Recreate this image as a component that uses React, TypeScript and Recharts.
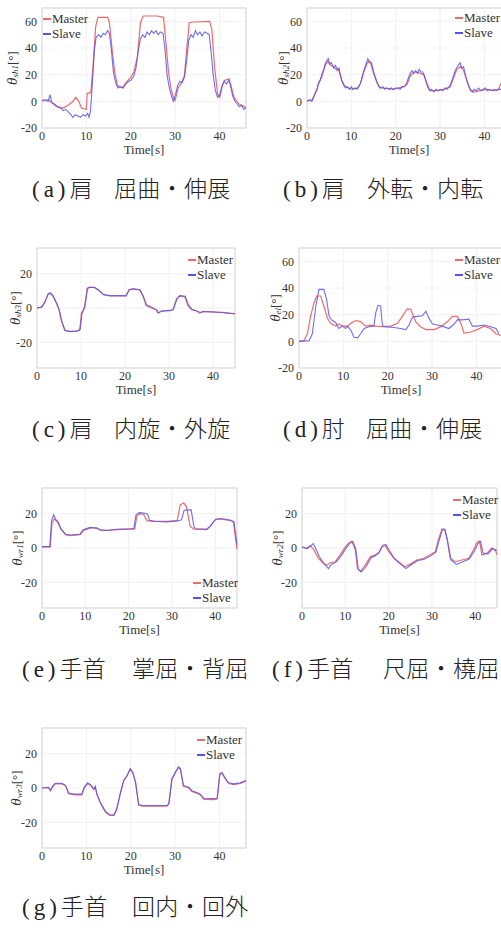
import React from 'react';
import {
  LineChart,
  Line,
  XAxis,
  YAxis,
  CartesianGrid,
  Legend,
  ReferenceArea,
} from 'recharts';

type Pt = [number, number];

// (a) shoulder flexion / extension
const aMaster: Pt[] = [[0,1],[1.5,1],[3.3,-4],[4.8,-5],[5.9,-3],[7,0],[7.6,3],[8.3,0],[8.9,-5],[10,-6],[10.2,6],[11,6.5],[11.5,26],[12.1,56],[12.6,63],[14.8,63],[15.2,59],[15.9,36],[16.4,22],[17,12],[18.1,10],[18.9,14],[20,18],[20.7,22],[21.5,33],[22.2,59],[22.8,64],[25.9,64],[27.4,63],[27.9,46],[28.5,23],[29,11],[29.6,3],[30,0.5],[30.7,10],[31.5,14],[32.1,19],[32.6,38],[33.2,59],[34.1,59.5],[37.8,60],[38.3,54],[38.9,26],[39.6,5.5],[40.1,3],[40.6,10.6],[41.1,15.7],[42.2,17],[42.7,10.6],[43.3,3],[44.4,-2],[46,-4.5]];
const aSlave: Pt[] = [[0,0],[0.8,1],[1.4,0],[1.8,5],[2.2,-1],[2.8,-2],[3.5,-4],[4.2,-5],[4.8,-7],[5.4,-6],[5.9,-8],[6.5,-10],[7,-12],[7.5,-10],[8.1,-11],[8.7,-12],[9.2,-10],[9.8,-11],[10.3,-9],[10.6,-12],[10.9,-8],[11.3,10],[11.8,38],[12.2,48],[12.8,50],[13.3,48],[13.8,51],[14.3,50],[14.8,53],[15.2,51],[15.6,40],[16.1,22],[16.6,14],[17.1,10],[17.7,11],[18.3,10],[18.9,13],[19.5,15],[20.1,16],[20.7,19],[21.2,25],[21.7,38],[22.2,47],[22.7,50],[23.2,48],[23.7,52],[24.2,50],[24.7,53],[25.2,51],[25.7,53],[26.2,50],[26.7,52],[27.3,51],[27.7,40],[28.2,20],[28.7,10],[29.2,4],[29.6,0],[30.1,5],[30.6,12],[31.1,15],[31.6,14],[32.1,18],[32.6,30],[33.1,46],[33.6,50],[34.1,48],[34.6,53],[35.1,50],[35.6,52],[36.1,49],[36.6,52],[37.2,51],[37.7,50],[38.1,38],[38.6,20],[39.1,8],[39.6,3],[40.1,5],[40.6,12],[41.1,15],[41.6,13],[42.1,16],[42.5,12],[43,4],[43.5,0],[44,-2],[44.5,-4],[45,-3],[45.5,-6],[46,-5]];

// (b) shoulder abduction / adduction
const bMaster: Pt[] = [[0,0.5],[1.1,1],[1.9,6],[2.6,13],[3.4,19],[4.1,27],[4.7,30],[5.3,27],[6,26],[6.8,23],[7.1,24],[7.9,15],[8.6,11],[9.4,10],[10.2,9],[11.3,10],[12,13],[12.8,22],[13.5,28],[13.9,30],[14.4,28],[15,21],[15.8,14],[16.5,10],[17.3,10],[19.5,9],[21.8,11],[22.6,13],[23.3,19],[24.1,22],[24.8,22],[25.6,21],[26.3,20],[27.1,13],[27.8,8],[29.3,8],[30.8,9],[32.3,11],[33.1,18],[33.8,24],[34.6,26],[35.3,23],[36.1,15],[36.8,9],[37.6,7],[39.1,8],[40.6,9],[42.1,8],[43.2,9],[43.7,13],[46,10]];
const bSlave: Pt[] = [[0,0],[0.6,1],[1.1,0],[1.5,3],[1.9,7],[2.3,9],[2.6,14],[3,16],[3.4,21],[3.8,24],[4.1,28],[4.5,31],[4.8,32],[5.1,28],[5.5,29],[6,25],[6.4,27],[6.8,24],[7.2,25],[7.6,19],[7.9,15],[8.3,12],[8.7,10],[9.1,11],[9.6,9],[10,11],[10.4,9],[10.8,10],[11.3,9],[11.7,11],[12.1,14],[12.5,19],[12.9,24],[13.3,28],[13.7,32],[14.1,30],[14.5,29],[14.9,24],[15.3,19],[15.8,14],[16.2,11],[16.6,10],[17.1,11],[17.5,9],[18,10],[18.5,9],[19,10],[19.5,9],[20,10],[20.5,10],[21,9],[21.5,11],[22,11],[22.5,14],[22.9,18],[23.3,21],[23.7,23],[24.1,21],[24.5,23],[24.9,21],[25.3,24],[25.7,22],[26.1,22],[26.5,19],[26.9,14],[27.3,10],[27.7,8],[28.1,9],[28.6,7],[29.1,9],[29.6,8],[30.1,9],[30.6,8],[31.1,10],[31.6,9],[32.1,11],[32.5,14],[32.9,18],[33.3,22],[33.7,25],[34.1,27],[34.5,29],[34.9,25],[35.3,26],[35.7,20],[36.1,15],[36.5,11],[36.9,8],[37.3,7],[37.7,9],[38.2,8],[38.7,10],[39.2,8],[39.7,9],[40.2,10],[40.7,8],[41.2,9],[41.7,8],[42.2,9],[42.7,8],[43.2,9],[43.7,9],[44.5,10]];

// (c) shoulder internal / external rotation
const cMaster: Pt[] = [[0,0],[1,0.6],[1.7,3],[2.5,8],[3,8.4],[3.6,7],[4.4,3],[5,-1],[5.5,-7],[6.3,-13],[7.4,-13.6],[8.9,-13.6],[9.7,-13],[10.1,-3],[10.5,-1],[10.8,0.6],[11.4,11.4],[12,12],[13.1,12],[13.9,10.6],[15,8],[16.5,7],[20.3,7],[20.9,10.6],[21.8,11],[23.3,10.6],[24.1,7],[24.8,1.4],[26,0],[27.1,-1],[27.5,-3],[28.3,-1.6],[30.2,-1.6],[30.9,-1],[31.7,5],[32.4,7],[33.6,6.6],[34.3,1.4],[35.1,-1],[36.2,-1.6],[37,-3],[37.7,-2],[40,-2.4],[42.3,-2.6],[43.8,-3],[45,-3.4]];
const cSlave: Pt[] = [[0,0],[1.1,0.5],[1.8,3.5],[2.6,8.5],[3.1,8.8],[3.7,7],[4.5,2.5],[5.1,-1.5],[5.6,-7.5],[6.4,-13.2],[7.5,-13.8],[9,-13.4],[9.8,-12.6],[10.2,-3.5],[10.6,-1],[10.9,1],[11.5,11.6],[12.1,12.2],[13.2,11.8],[14,10.4],[15.1,7.8],[16.6,7.2],[20.2,7.2],[21,10.8],[21.9,11.2],[23.4,10.6],[24.2,6.6],[24.9,1.8],[26.1,0.4],[27.2,-1.2],[27.6,-2.8],[28.4,-1.8],[30.3,-1.4],[31,-0.8],[31.8,5.4],[32.5,7.2],[33.7,6.8],[34.4,1.8],[35.2,-0.8],[36.3,-1.8],[37.1,-2.6],[37.8,-2.2],[40.1,-2.2],[42.4,-2.8],[43.9,-3.2],[45,-3.2]];

// (d) elbow flexion / extension
const dMaster: Pt[] = [[0,0],[1.1,0.5],[1.9,5.7],[2.6,18.7],[3.4,29],[4,34],[4.9,34],[5.6,26.5],[6.4,17.4],[7.1,13.5],[8.3,11.4],[9,13],[9.8,11.4],[10.5,9.6],[11.7,13.5],[12.8,15.6],[13.9,14.8],[15,11.4],[16.2,12.2],[17.3,11.4],[18.8,11],[20.7,11.4],[22.2,13.5],[23.3,18.7],[24.4,24.4],[25.2,24],[26.3,14.8],[27.4,11],[28.6,8.8],[30.5,8.8],[32,11],[33.5,14.8],[34.6,18.7],[35.7,18.7],[36.5,13.5],[37.2,6.2],[38.7,7],[40.2,8.8],[41.7,11.4],[43.2,9.6],[44.4,5.7],[45.5,4.4]];
const dSlave: Pt[] = [[0,0],[2.3,0.5],[3,5.7],[3.8,26.5],[4.5,39],[5.6,39],[6.2,31.7],[6.8,18.7],[7.5,15.6],[8.3,14],[9,9.6],[9.8,11.4],[10.9,11.4],[11.7,8.3],[12.4,3],[13.2,2.6],[13.9,5.7],[14.7,9.6],[15.8,11],[16.9,11.4],[17.3,21.3],[17.8,27],[18.4,26.5],[18.8,12.2],[19.2,11],[21.4,10.4],[22.9,9.6],[24.1,8.8],[24.8,12.2],[25.6,18.2],[26.7,18.7],[27.8,19.2],[28.6,22.6],[29.3,17.4],[30.1,13],[31.2,12.2],[32.3,11.4],[33.8,9.6],[35,13],[35.7,16.1],[36.8,16.1],[38.3,16.6],[39.1,11.4],[40.2,11.4],[41.7,12.2],[43.2,11],[44.4,9.6],[45.1,5.7]];

// (e) wrist palmar / dorsal flexion
const eMaster: Pt[] = [[0,0.6],[1.9,0.6],[2.3,14.6],[2.8,17],[3.5,15.5],[4.2,11.7],[5.4,7.8],[6.5,7.2],[8.8,7.8],[9.6,10.3],[11.2,11.7],[12.7,11.7],[13.5,10.3],[15,10.3],[17.3,10.7],[20.4,11],[21.4,11],[21.9,18.8],[22.7,20],[23.5,19.4],[24.2,16],[25.8,15.5],[28.8,15.5],[31.2,16],[31.9,25.2],[32.7,26.2],[33.3,24.3],[34.2,12.6],[35,11],[38.1,10.7],[38.8,12.6],[40,16.5],[41.2,16.9],[43.5,16],[44.2,15],[44.6,6.8],[45,-0.6]];
const eSlave: Pt[] = [[0,0.8],[1.8,0.8],[2.2,16],[2.7,19.4],[3.2,16.5],[3.8,15],[4.4,11],[5.5,8],[6.6,7.6],[8.7,8],[9.5,10.6],[11.1,12],[12.6,11.5],[13.4,10.6],[15.1,10.2],[17.2,10.9],[20.3,11.2],[21.2,11.4],[21.7,19.4],[22.4,20.6],[23.6,20.4],[24.4,19.6],[24.8,16.2],[25.9,15.6],[28.7,15.2],[31.3,15.8],[32.2,16.4],[32.8,22],[34.4,22.4],[35.1,12],[35.6,11.2],[38,11],[38.9,13],[40.1,16.8],[41.3,17.2],[43.6,16.2],[44.3,15.4],[44.7,8],[45,2]];

// (f) wrist ulnar / radial flexion
const fMaster: Pt[] = [[0,0.6],[1.2,0],[1.9,1.4],[2.7,-1],[3.8,-6],[5,-9],[5.8,-10],[6.5,-8.6],[7.7,-8],[8.8,-4],[10,0.6],[10.8,3],[11.5,4],[12.3,-1],[12.8,-12],[13.5,-13.6],[14.6,-10],[15.8,-5],[16.9,-4],[17.7,-3],[18.5,1],[19.2,1.4],[20,-2],[21.2,-6],[22.3,-8],[23.8,-11],[25,-9.4],[26.5,-7],[28.1,-6],[29.6,-4],[30.8,-2],[31.5,5],[32.3,11],[32.9,11],[33.5,5],[34.2,-6],[35.4,-8],[36.9,-7],[38.5,-6],[39.6,-1],[40.4,3.4],[41,4],[41.5,-4],[42.7,-3],[43.8,0],[44.6,-1],[45,-4]];
const fSlave: Pt[] = [[0,0.4],[1.2,-0.4],[1.9,1],[2.6,2.6],[3.1,0],[4,-5],[5.2,-9.6],[6.1,-12],[6.8,-9.4],[7.8,-8.4],[8.9,-5],[10.1,-0.4],[10.9,2.4],[11.7,3.8],[12.4,-0.4],[13,-12.4],[13.7,-14],[14.8,-10.8],[15.9,-5.8],[17,-4.4],[17.8,-2.6],[18.7,1.6],[19.4,2],[20.2,-1.6],[21.4,-6.4],[22.5,-9],[24,-12],[25.2,-9.8],[26.6,-7.4],[28.2,-6.6],[29.7,-4.6],[30.9,-2.4],[31.6,4],[32.4,10.8],[33,10.6],[33.6,4],[34.4,-7],[35.6,-9.6],[37.1,-8],[38.6,-6.4],[39.8,-1.8],[40.6,2.6],[41.2,3.8],[41.8,-3],[42.9,-3.6],[43.9,-0.6],[44.7,-1.4],[45,-1]];

// (g) wrist pronation / supination
const gMaster: Pt[] = [[0,0],[1.5,0],[1.9,-1.6],[2.5,1],[3,2.6],[4.5,2.4],[5.3,1.4],[6,-3.4],[7.5,-4],[9,-4],[9.5,0],[10.3,2.6],[11,1.4],[11.7,-1],[12,0.6],[12.4,-4],[13.2,-9],[14.3,-14],[15.3,-16],[16.2,-16],[16.8,-13],[17.7,-3],[18.4,4],[19.2,7],[19.9,11.4],[20.5,9],[21.1,3],[21.8,-10],[22.6,-10.6],[28.2,-10.6],[28.6,-9.4],[29.3,5],[30.1,9],[30.8,12.4],[31.2,11.4],[31.9,1],[33.1,0],[33.8,-2],[34.9,-3],[35.7,-4],[36.5,-6.6],[38.7,-6.8],[39.5,-6.4],[40.1,8],[40.6,8.6],[41.4,5],[42.1,2.6],[43.2,2],[44.7,2.6],[46,4]];
const gSlave: Pt[] = [[0,0],[1.5,0.4],[1.9,-1.2],[2.5,1.4],[3,2.8],[4.5,2.8],[5.3,1.6],[6,-3],[7.5,-3.6],[9,-3.6],[9.5,0.4],[10.3,3],[11,1.8],[11.7,-0.6],[12,1],[12.4,-3.6],[13.2,-8.6],[14.3,-13.6],[15.3,-15.6],[16.2,-15.8],[16.8,-12.6],[17.7,-2.6],[18.4,4.4],[19.2,7.4],[19.9,11],[20.5,8.6],[21.1,3.4],[21.8,-9.6],[22.6,-10.2],[28.2,-10.2],[28.6,-9],[29.3,5.4],[30.1,9.4],[30.8,12],[31.2,11],[31.9,1.4],[33.1,0.4],[33.8,-1.6],[34.9,-2.6],[35.7,-3.6],[36.5,-6],[38.7,-6.2],[39.5,-6],[40.1,8.4],[40.6,9],[41.4,5.4],[42.1,3],[43.2,2.4],[44.7,3],[46,4.4]];

const xTicks = [0, 10, 20, 30, 40];
const wideTicks = [-20, 0, 20, 40, 60];
const narrowTicks = [-20, 0, 20];

const MASTER = '#f06a6a';
const SLAVE = '#5555ee';
const SERIF = '"Liberation Serif", "Times New Roman", serif';

const toData = (pts: Pt[]) => pts.map(([t, v]) => ({ t, v }));

const YLabel = ({ viewBox, sub, dx }: any) => {
  const cx = viewBox.x + viewBox.width + dx;
  const cy = viewBox.y + viewBox.height / 2;
  return (
    <text
      transform={`translate(${cx},${cy}) rotate(-90)`}
      textAnchor="middle"
      dominantBaseline="central"
      fontFamily={SERIF}
      fontSize={13}
      fill="#333"
    >
      <tspan fontStyle="italic" fontSize={15}>θ</tspan>
      <tspan fontStyle="italic" fontSize={9} dy={3}>{sub}</tspan>
      <tspan dy={-3}>[°]</tspan>
    </text>
  );
};

const LegendBox = ({ payload }: any) => (
  <div style={{ fontFamily: SERIF, fontSize: 13, lineHeight: '15px', color: '#333' }}>
    {(payload || []).map((p: any) => (
      <div key={p.value} style={{ display: 'flex', alignItems: 'center', whiteSpace: 'nowrap' }}>
        <span
          style={{
            display: 'inline-block',
            width: 8,
            height: 2,
            background: p.value === 'Master' ? MASTER : SLAVE,
            marginRight: 1,
          }}
        />
        {p.value}
      </div>
    ))}
  </div>
);

interface PanelProps {
  left: number;
  top: number;
  width: number;
  plotLeft: number;
  plotWidth: number;
  xMax: number;
  yDomain: [number, number];
  yTicks: number[];
  master: Pt[];
  slave: Pt[];
  sub: string;
  labelDx: number;
  legendLeft: number;
  legendTop: number;
}

const PLOT_TOP = 8;
const PLOT_H = 120;
const BOX_H = 170;

function Panel(p: PanelProps) {
  const margin = {
    top: PLOT_TOP,
    left: p.plotLeft - 30,
    right: p.width - p.plotLeft - p.plotWidth,
    bottom: BOX_H - PLOT_TOP - PLOT_H - 30,
  };
  return (
    <div style={{ position: 'absolute', left: p.left, top: p.top }}>
      <LineChart width={p.width} height={BOX_H} margin={margin}>
        <CartesianGrid stroke="#f1f1f1" />
        <XAxis
          dataKey="t"
          type="number"
          domain={[0, p.xMax]}
          ticks={xTicks}
          allowDuplicatedCategory={false}
          height={30}
          axisLine={false}
          tickLine={false}
          tickSize={0}
          tickMargin={3}
          tick={{ fontSize: 12, fill: '#333', fontFamily: SERIF }}
          label={{ value: 'Time[s]', position: 'insideBottom', offset: 4, fontSize: 13, fill: '#333', fontFamily: SERIF }}
        />
        <YAxis
          type="number"
          domain={p.yDomain}
          ticks={p.yTicks}
          width={30}
          axisLine={false}
          tickLine={false}
          tickSize={0}
          tickMargin={5}
          tick={{ fontSize: 12, fill: '#333', fontFamily: SERIF }}
          label={<YLabel sub={p.sub} dx={p.labelDx} />}
        />
        <ReferenceArea
          x1={0}
          x2={p.xMax}
          y1={p.yDomain[0]}
          y2={p.yDomain[1]}
          fill="none"
          stroke="#d6d6d6"
          strokeWidth={1}
        />
        <Legend
          layout="vertical"
          align="center"
          verticalAlign="middle"
          content={<LegendBox />}
          wrapperStyle={{ top: p.legendTop, left: p.legendLeft, width: 'auto' }}
        />
        <Line
          data={toData(p.master)}
          dataKey="v"
          name="Master"
          stroke={MASTER}
          strokeWidth={1.2}
          dot={false}
          isAnimationActive={false}
        />
        <Line
          data={toData(p.slave)}
          dataKey="v"
          name="Slave"
          stroke={SLAVE}
          strokeWidth={1.1}
          strokeOpacity={0.85}
          dot={false}
          isAnimationActive={false}
        />
      </LineChart>
    </div>
  );
}

interface CaptionProps {
  left: number;
  top: number;
  tag: string;
  part: string;
  motion: string;
  motionX: number;
}

// caption laid out like the printed figure: "(x)" half width, joint name, then motion at a tab stop
function Caption({ left, top, tag, part, motion, motionX }: CaptionProps) {
  return (
    <div
      style={{
        position: 'absolute',
        left,
        top,
        width: 260,
        height: 28,
        fontFamily: '"Noto Sans CJK JP", sans-serif',
        fontWeight: 300,
        fontSize: 23,
        lineHeight: '28px',
        letterSpacing: 0.3,
        color: '#222',
        whiteSpace: 'nowrap',
      }}
    >
      <span style={{ fontFamily: SERIF, fontSize: 23, letterSpacing: 4 }}>{tag}</span>
      <span>{part}　</span>
      <span style={{ position: 'absolute', left: motionX - left, top: 0 }}>{motion}</span>
    </div>
  );
}

export default function App() {
  return (
    <div style={{ position: 'absolute', left: 0, top: 0, width: 501, height: 934, overflow: 'hidden', background: '#fff' }}>
      <Panel left={0} top={0} width={250} plotLeft={42} plotWidth={204} xMax={46} yDomain={[-20, 70]} yTicks={wideTicks}
        master={aMaster} slave={aSlave} sub="sh1" labelDx={-30} legendLeft={43} legendTop={11} />
      <Panel left={250} top={0} width={270} plotLeft={57} plotWidth={204} xMax={46} yDomain={[-20, 70]} yTicks={wideTicks}
        master={bMaster} slave={bSlave} sub="sh2" labelDx={-24} legendLeft={205} legendTop={10} />
      <Panel left={0} top={240} width={250} plotLeft={37} plotWidth={198} xMax={45} yDomain={[-35, 35]} yTicks={narrowTicks}
        master={cMaster} slave={cSlave} sub="sh3" labelDx={-22} legendLeft={188} legendTop={12} />
      <Panel left={250} top={240} width={270} plotLeft={49} plotWidth={204} xMax={46} yDomain={[-20, 70]} yTicks={wideTicks}
        master={dMaster} slave={dSlave} sub="el" labelDx={-24} legendLeft={205} legendTop={12} />
      <Panel left={0} top={480} width={250} plotLeft={42} plotWidth={195} xMax={45} yDomain={[-35, 35]} yTicks={narrowTicks}
        master={eMaster} slave={eSlave} sub="wr1" labelDx={-25} legendLeft={193} legendTop={95} />
      <Panel left={250} top={480} width={270} plotLeft={52} plotWidth={195} xMax={45} yDomain={[-35, 35]} yTicks={narrowTicks}
        master={fMaster} slave={fSlave} sub="wr2" labelDx={-25} legendLeft={203} legendTop={12} />
      <Panel left={0} top={720} width={250} plotLeft={42} plotWidth={204} xMax={46} yDomain={[-35, 35]} yTicks={narrowTicks}
        master={gMaster} slave={gSlave} sub="wr3" labelDx={-26} legendLeft={197} legendTop={12} />

      <Caption left={32} top={173} tag="(a)" part="肩" motion="屈曲・伸展" motionX={114} />
      <Caption left={283} top={173} tag="(b)" part="肩" motion="外転・内転" motionX={367} />
      <Caption left={32} top={413} tag="(c)" part="肩" motion="内旋・外旋" motionX={114} />
      <Caption left={283} top={413} tag="(d)" part="肘" motion="屈曲・伸展" motionX={366} />
      <Caption left={22} top={653} tag="(e)" part="手首" motion="掌屈・背屈" motionX={132} />
      <Caption left={272} top={653} tag="(f)" part="手首" motion="尺屈・橈屈" motionX={383} />
      <Caption left={22} top={891} tag="(g)" part="手首" motion="回内・回外" motionX={132} />
    </div>
  );
}
